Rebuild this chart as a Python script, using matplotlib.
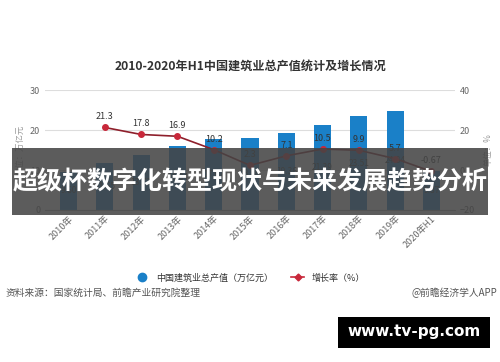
import numpy as np
import matplotlib.pyplot as plt
from matplotlib.patches import Rectangle
from matplotlib.lines import Line2D

plt.rcParams['font.family'] = ['Noto Sans CJK SC', 'DejaVu Sans']

years = ['2010年', '2011年', '2012年', '2013年', '2014年', '2015年',
         '2016年', '2017年', '2018年', '2019年', '2020年H1']
output = [9.60, 11.65, 13.72, 16.04, 17.67, 18.08, 19.36, 21.39, 23.51, 24.84, 9.87]
growth_years = years[1:]
growth = [21.3, 17.8, 16.9, 10.2, 2.3, 7.1, 10.5, 9.9, 5.7, -0.67]

fig = plt.figure(figsize=(5, 3.62), dpi=100)
fig.patch.set_facecolor('white')
ax = fig.add_axes([0.09, 0.42, 0.82, 0.331])
ax2 = ax.twinx()

x = np.arange(len(years))
bar_color = '#1a80c8'
ax.bar(x, output, width=0.47, color=bar_color, zorder=2)
for xi, v in zip(x, output):
    ax.text(xi, v / 2, f'{v:.2f}', ha='center', va='center', fontsize=6, color='#333333', zorder=5)

gx = x[1:]
ax2.plot(gx, growth, color='#8e1f2b', lw=1.2, marker='o', ms=4,
         mfc='#c8283a', mec='#c8283a', zorder=4)
for xi, v in zip(gx, growth):
    ax2.text(xi, v + 3, f'{v:g}', ha='center', va='bottom', fontsize=6.5, color='#333333', zorder=5)

ax.set_ylim(0, 30)
ax.set_yticks([0, 10, 20, 30])
ax2.set_ylim(-20, 40)
ax2.set_yticks([-20, 0, 20, 40])
ax.set_xlim(-0.65, len(years) - 0.35)
ax.set_xticks(x)
ax.set_xticklabels(years, rotation=45, ha='right', rotation_mode='anchor', fontsize=6.5, color='#555555')
ax.yaxis.grid(True, color='#dddddd', lw=0.8, zorder=0)
ax.set_axisbelow(True)
for a in (ax, ax2):
    for s in ['top', 'left', 'right']:
        a.spines[s].set_visible(False)
    a.tick_params(length=0, labelsize=6.5, labelcolor='#666666')
ax.spines['bottom'].set_color('#aaaaaa')
ax2.spines['bottom'].set_visible(False)
ax.tick_params(axis='x', pad=3)
ax.set_ylabel('单位：万亿元', fontsize=6, color='#999999', labelpad=4)
ax2.set_ylabel('单位：%', fontsize=6, color='#999999', labelpad=6)

fig.text(0.5, 0.815, '2010-2020年H1中国建筑业总产值统计及增长情况', ha='center', va='center',
         fontsize=8.7, fontweight='bold', color='#333333')

handles = [Line2D([], [], ls='none', marker='o', ms=6, color=bar_color),
           Line2D([], [], color='#c8283a', lw=1.2, marker='D', ms=3.5)]
fig.legend(handles, ['中国建筑业总产值（万亿元）', '增长率（%）'], loc='center',
           bbox_to_anchor=(0.5, 0.232), ncol=2, frameon=False, fontsize=6.5,
           handlelength=1.5, columnspacing=2, labelcolor='#333333')
fig.text(0.012, 0.19, '资料来源：国家统计局、前瞻产业研究院整理', fontsize=7, color='#555555', va='center')
fig.text(0.995, 0.19, '@前瞻经济学人APP', fontsize=7, color='#555555', va='center', ha='right')

# overlay banner
fig.patches.append(Rectangle((0.024, 0.406), 0.952, 0.185, transform=fig.transFigure,
                             facecolor='#444444', alpha=0.87, zorder=10))
fig.text(0.5, 0.497, '超级杯数字化转型现状与未来发展趋势分析', ha='center', va='center',
         fontsize=18, fontweight='bold', color='white', zorder=11)

fig.patches.append(Rectangle((0.676, 0.04), 0.304, 0.085, transform=fig.transFigure,
                             facecolor='black', zorder=10))
fig.text(0.828, 0.083, 'www.tv-pg.com', ha='center', va='center', fontsize=11,
         fontweight='bold', color='white', family=['DejaVu Sans'], zorder=11)

fig.savefig('out.png', dpi=100)
